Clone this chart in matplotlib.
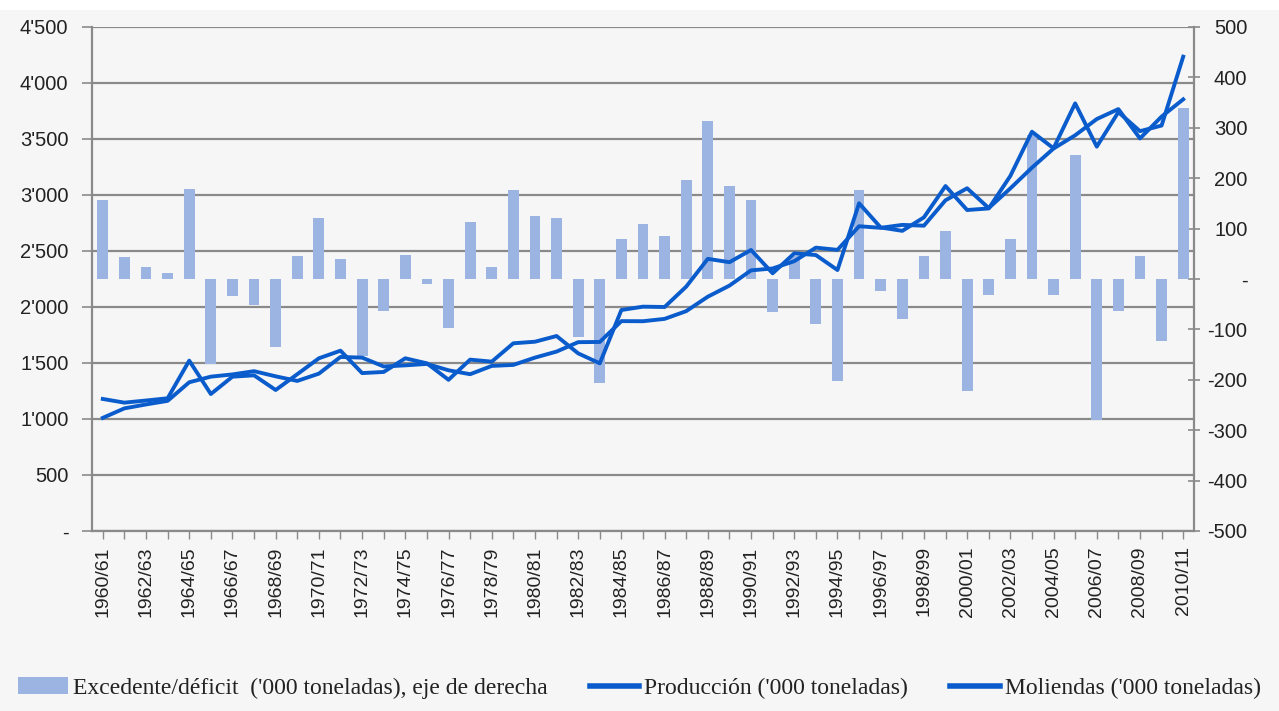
import matplotlib.pyplot as plt
from matplotlib.patches import Patch, Rectangle
from matplotlib.lines import Line2D
from matplotlib.ticker import FixedLocator, FuncFormatter

plt.rcParams['font.family'] = ['Liberation Sans', 'DejaVu Sans']

# temporadas 1960/61 .. 2010/11
seasons = [f"{y}/{str(y + 1)[-2:]}" for y in range(1960, 2011)]

# '000 toneladas, eje izquierdo
produccion = [1179, 1146, 1165, 1185, 1521, 1223, 1378, 1390, 1259, 1400,
              1542, 1610, 1410, 1420, 1542, 1497, 1350, 1530, 1512, 1676,
              1690, 1741, 1586, 1497, 1973, 2003, 2000, 2182, 2430, 2400,
              2509, 2301, 2479, 2464, 2330, 2926, 2710, 2680, 2800, 3080,
              2866, 2880, 3170, 3565, 3417, 3818, 3432, 3740, 3570, 3620,
              4235]
moliendas = [1010, 1095, 1130, 1162, 1328, 1378, 1398, 1427, 1381, 1340,
             1405, 1554, 1548, 1469, 1479, 1492, 1435, 1400, 1474, 1483,
             1548, 1602, 1686, 1688, 1874, 1873, 1894, 1963, 2092, 2191,
             2327, 2344, 2409, 2530, 2510, 2721, 2707, 2733, 2726, 2953,
             3060, 2883, 3059, 3244, 3415, 3533, 3678, 3767, 3505, 3700,
             3854]
# '000 toneladas, eje derecho
excedente = [156, 43, 23, 11, 178, -169, -34, -51, -135, 46,
             122, 40, -152, -63, 48, -10, -98, 114, 23, 176,
             125, 122, -116, -206, 79, 110, 86, 197, 314, 185,
             157, -66, 45, -90, -203, 176, -24, -80, 46, 96,
             -223, -32, 79, 285, -32, 247, -280, -64, 46, -124,
             339]

left_ticks = [0, 500, 1000, 1500, 2000, 2500, 3000, 3500, 4000, 4500]
right_ticks = [-500, -400, -300, -200, -100, 0, 100, 200, 300, 400, 500]

bar_color = "#9cb4e2"
line_color = "#0a5ccc"
grid_color = "#8a8a8a"
text_color = "#222222"
bg = "#f6f6f6"

fig = plt.figure(figsize=(12.79, 7.11), dpi=100, facecolor="white")
fig.patches.append(Rectangle((0, 0), 1, 1 - 10 / 711, transform=fig.transFigure,
                             facecolor=bg, edgecolor="none", zorder=-10))

rect = [92 / 1279, 1 - 531 / 711, (1194 - 92) / 1279, (531 - 27) / 711]
ax = fig.add_axes(rect)
ax.set_facecolor(bg)
x = list(range(len(seasons)))


def fmt_left(v, pos):
    if v == 0:
        return "-"
    return f"{int(v):,}".replace(",", "'")


def fmt_right(v, pos):
    if v == 0:
        return "-"
    return f"{int(v)}"


# capa base: rejilla y eje izquierdo
ax.set_ylim(0, 4500)
ax.set_xlim(-0.5, len(seasons) - 0.5)
ax.yaxis.set_major_locator(FixedLocator(left_ticks))
ax.yaxis.set_major_formatter(FuncFormatter(fmt_left))
ax.grid(axis="y", color=grid_color, linewidth=1.6)
ax.set_axisbelow(True)
ax.tick_params(axis="y", length=7, width=1.2, color=grid_color, labelsize=14.5,
               labelcolor=text_color, pad=10)
for s in ["top", "right"]:
    ax.spines[s].set_visible(False)
for s in ["left", "bottom"]:
    ax.spines[s].set_color(grid_color)
    ax.spines[s].set_linewidth(1.6)

ax.set_xticks(x[::2])
ax.set_xticklabels(seasons[::2], rotation=90, fontsize=14, color=text_color)
ax.set_xticks(x, minor=True)
ax.tick_params(axis="x", which="both", length=6, width=1.0, color=grid_color, pad=5)

# barras, eje derecho
ax2 = ax.twinx()
ax2.bar(x, excedente, width=0.5, color=bar_color, zorder=2)
ax2.set_ylim(-500, 500)
ax2.yaxis.set_major_locator(FixedLocator(right_ticks))
ax2.yaxis.set_major_formatter(FuncFormatter(fmt_right))
ax2.tick_params(axis="y", direction="inout", length=9, width=1.2, color=grid_color,
                labelsize=14.5, labelcolor=text_color, pad=34)
for lab in ax2.get_yticklabels():
    lab.set_horizontalalignment("right")
for s in ["top", "left", "bottom"]:
    ax2.spines[s].set_visible(False)
ax2.spines["right"].set_color(grid_color)
ax2.spines["right"].set_linewidth(1.6)

# lineas arriba de todo
ax3 = ax.twinx()
ax3.set_ylim(0, 4500)
ax3.plot(x, produccion, color=line_color, linewidth=2.8)
ax3.plot(x, moliendas, color=line_color, linewidth=2.8)
ax3.axis("off")

handles = [
    Patch(facecolor=bar_color, edgecolor="none"),
    Line2D([], [], color=line_color, linewidth=4),
    Line2D([], [], color=line_color, linewidth=4),
]
labels = [
    "Excedente/déficit  ('000 toneladas), eje de derecha",
    "Producción ('000 toneladas)",
    "Moliendas ('000 toneladas)",
]
fig.legend(handles, labels, loc="center", bbox_to_anchor=(0.5, 1 - 688 / 711),
           ncol=3, frameon=False,
           prop={"family": "Liberation Serif", "size": 17},
           labelcolor=text_color, handlelength=2.1, handletextpad=0.2,
           columnspacing=1.8)

fig.savefig("out.png", dpi=100, facecolor=fig.get_facecolor())
